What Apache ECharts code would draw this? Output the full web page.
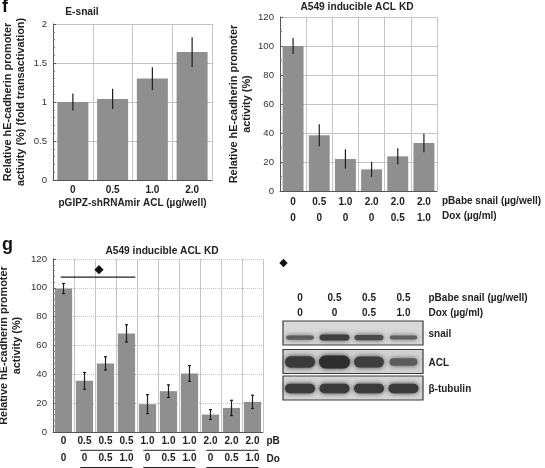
<!DOCTYPE html>
<html><head><meta charset="utf-8">
<script src="https://cdn.jsdelivr.net/npm/echarts@6/dist/echarts.min.js"></script>
<style>html,body{margin:0;padding:0;background:#fff}#c{width:545px;height:468px}</style>
</head><body><div id="c"></div>
<script>
// ---------- data ----------
const fLeftCats = ['0', '0.5', '1.0', '2.0'];
const fLeftVals = [1.0, 1.04, 1.30, 1.64];
const fLeftErr  = [0.11, 0.13, 0.145, 0.19];

const fRightSnail = ['0', '0.5', '1.0', '2.0', '2.0', '2.0'];
const fRightDox   = ['0', '0', '0', '0', '0.5', '1.0'];
const fRightVals  = [100, 38.4, 22.1, 14.9, 23.9, 33.1];
const fRightErr   = [5.5, 7.6, 6.7, 5.2, 5.5, 6.3];

const gSnail = ['0', '0.5', '0.5', '0.5', '1.0', '1.0', '1.0', '2.0', '2.0', '2.0'];
const gDox   = ['0', '0', '0.5', '1.0', '0', '0.5', '1.0', '0', '0.5', '1.0'];
const gVals  = [99.5, 35.5, 47.6, 68.4, 19.3, 28.3, 40.6, 12.1, 16.7, 20.9];
const gErr   = [3.5, 5.8, 4.6, 6.0, 6.6, 4.4, 5.5, 3.4, 5.3, 4.6];
const gSigLine = [[0, 3, 107.4]];   // from category, to category, value
const gSigMark = [[2, 112.6]];      // category, value
const gGroups  = [[1, 3], [4, 6], [7, 9]];

const blotSnail = ['0', '0.5', '0.5', '0.5'];
const blotDox   = ['0', '0', '0.5', '1.0'];
const blotRows  = ['snail', 'ACL', 'β-tubulin'];
const blotIntensity = [[0.45, 0.8, 0.65, 0.4], [0.85, 1.0, 0.8, 0.45], [0.85, 0.85, 0.85, 0.85]];

// ---------- style / layout ----------
const F = '"Liberation Sans", Arial, Helvetica, sans-serif';
const BAR = '#8f8f8f';
const FS_TICK = 9.6, FS_BOLD = 10, FS_TITLE = 10.2, FS_YNAME = 10.9;
const G = [
  {left: 53, top: 24, width: 159, height: 156},
  {left: 280, top: 17, width: 157, height: 174},
  {left: 53, top: 259, width: 210, height: 173}
];

function yAx(gi, max, interval, name, gap, dotted, minorN) {
  return {
    type: 'value', gridIndex: gi, min: 0, max: max, interval: interval,
    name: name, nameLocation: 'middle', nameGap: gap, nameRotate: 90,
    nameTextStyle: {fontFamily: F, fontWeight: 'bold', fontSize: FS_YNAME, color: '#222', lineHeight: 12.8},
    axisLine: {show: true, lineStyle: {color: '#555', width: 1}},
    axisTick: {show: true, inside: true, length: 3, lineStyle: {color: '#555'}},
    minorTick: {show: true, splitNumber: minorN, length: 2, lineStyle: {color: '#777'}},
    axisLabel: {fontFamily: F, fontSize: FS_TICK, color: '#333', margin: 6},
    splitLine: {show: true, lineStyle: {color: '#c4c4c4', width: 1, type: dotted ? 'dotted' : 'solid'}}
  };
}
function xAx(gi, n, fmt, lh, margin, name, nameGap) {
  const a = {
    type: 'category', gridIndex: gi, data: Array.from({length: n}, (_, i) => i),
    axisLine: {show: true, lineStyle: {color: '#555', width: 1}},
    axisTick: {show: false},
    axisLabel: {interval: 0, formatter: fmt, fontFamily: F, fontWeight: 'bold', fontSize: FS_BOLD,
                color: '#222', lineHeight: lh, margin: margin},
    splitLine: {show: true, interval: 0, lineStyle: {color: '#c4c4c4', width: 1}}
  };
  if (name) {
    a.name = name; a.nameLocation = 'middle'; a.nameGap = nameGap;
    a.nameTextStyle = {fontFamily: F, fontWeight: 'bold', fontSize: FS_BOLD, color: '#222'};
  }
  return a;
}
function barSeries(gi, vals, gap) {
  return {type: 'bar', xAxisIndex: gi, yAxisIndex: gi, data: vals, barCategoryGap: gap,
          itemStyle: {color: BAR}, silent: true, z: 2};
}
function errSeries(gi, vals, errs, cap) {
  return {
    type: 'custom', xAxisIndex: gi, yAxisIndex: gi, z: 5, silent: true,
    data: vals.map((v, i) => [i, v - errs[i], v + errs[i]]),
    encode: {x: 0, y: [1, 2]},
    renderItem: function (params, api) {
      const lo = api.coord([api.value(0), api.value(1)]);
      const hi = api.coord([api.value(0), api.value(2)]);
      const st = {stroke: '#1e1e1e', lineWidth: 1.2};
      const ch = [{type: 'line', shape: {x1: lo[0], y1: lo[1], x2: hi[0], y2: hi[1]}, style: st}];
      if (cap) {
        ch.push({type: 'line', shape: {x1: hi[0] - cap, y1: hi[1], x2: hi[0] + cap, y2: hi[1]}, style: st});
        ch.push({type: 'line', shape: {x1: lo[0] - cap, y1: lo[1], x2: lo[0] + cap, y2: lo[1]}, style: st});
      }
      return {type: 'group', children: ch};
    }
  };
}

const chart = echarts.init(document.getElementById('c'), null, {renderer: 'canvas'});

const series = [
  barSeries(0, fLeftVals, '22%'),
  errSeries(0, fLeftVals, fLeftErr, 0),
  barSeries(1, fRightVals, '20%'),
  errSeries(1, fRightVals, fRightErr, 0),
  barSeries(2, gVals, '18%'),
  errSeries(2, gVals, gErr, 1.5),
  { // significance line
    type: 'custom', xAxisIndex: 2, yAxisIndex: 2, z: 6, silent: true, data: gSigLine,
    encode: {x: [0, 1], y: 2},
    renderItem: function (params, api) {
      const a = api.coord([api.value(0), api.value(2)]);
      const b = api.coord([api.value(1), api.value(2)]);
      const bw = api.size([1, 0])[0];
      return {type: 'line', shape: {x1: a[0] - 0.13 * bw, y1: a[1], x2: b[0] + 0.42 * bw, y2: b[1]},
              style: {stroke: '#1e1e1e', lineWidth: 1.1}};
    }
  },
  { // diamond marker
    type: 'custom', xAxisIndex: 2, yAxisIndex: 2, z: 6, silent: true, data: gSigMark,
    encode: {x: 0, y: 1},
    renderItem: function (params, api) {
      const p = api.coord([api.value(0), api.value(1)]);
      const bw = api.size([1, 0])[0];
      const x = p[0] - 0.31 * bw, y = p[1], r = 4.6;
      return {type: 'polygon', shape: {points: [[x, y - r], [x + r, y], [x, y + r], [x - r, y]]},
              style: {fill: '#111'}};
    }
  },
  { // group underlines under x labels
    type: 'custom', xAxisIndex: 2, yAxisIndex: 2, z: 6, silent: true, clip: false, data: gGroups,
    encode: {x: [0, 1]},
    renderItem: function (params, api) {
      const a = api.coord([api.value(0), 0]);
      const b = api.coord([api.value(1), 0]);
      const bw = api.size([1, 0])[0];
      const x1 = a[0] - 0.2 * bw, x2 = b[0] + 0.28 * bw;
      const st = {stroke: '#222', lineWidth: 1};
      return {type: 'group', children: [
        {type: 'line', shape: {x1: x1, y1: a[1] + 18.3, x2: x2, y2: a[1] + 18.3}, style: st},
        {type: 'line', shape: {x1: x1, y1: a[1] + 35.5, x2: x2, y2: a[1] + 35.5}, style: st}
      ]};
    }
  }
];

// ---------- graphic: titles, row labels, blot ----------
function txt(x, y, s, opt) {
  return Object.assign({type: 'text', x: x, y: y, silent: true,
    style: Object.assign({text: s, fontFamily: F, fontSize: FS_BOLD, fontWeight: 'bold', fill: '#222',
                          align: 'left', verticalAlign: 'middle'}, opt || {})});
}
const graphics = [];
graphics.push(txt(2, 7, 'f', {fontSize: 18, fill: '#111'}));
graphics.push(txt(2, 245, 'g', {fontSize: 18, fill: '#111'}));
graphics.push(txt(82, 12, 'E-snail', {align: 'center', fontSize: FS_TITLE}));
graphics.push(txt(357, 7, 'A549 inducible ACL KD', {align: 'center', fontSize: FS_TITLE}));
graphics.push(txt(162, 251, 'A549 inducible ACL KD', {align: 'center', fontSize: FS_TITLE}));
// row captions f-right
const frx = G[1].left + G[1].width + 5, fry = G[1].top + G[1].height;
graphics.push(txt(frx, fry + 10.5, 'pBabe snail (µg/well)'));
graphics.push(txt(frx, fry + 25.5, 'Dox (µg/ml)'));
// row captions g (cropped by the blot panel)
const grx = G[2].left + G[2].width + 3.5, gry = G[2].top + G[2].height;
graphics.push(txt(grx, gry + 9, 'pBabe snail (µg/well)', {width: 16, overflow: 'truncate', ellipsis: ''}));
graphics.push(txt(grx, gry + 27, 'Dox (µg/ml)', {width: 16, overflow: 'truncate', ellipsis: ''}));

// blot panel
const laneX0 = 300, laneStep = 34.5, blotL = 283, blotR = 423;
const rowTop = [321, 349.5, 376], rowH = 24;
const capX = 428.5;
graphics.push({type: 'polygon', silent: true,
  shape: {points: [[283.5, 258.8], [287.7, 263], [283.5, 267.2], [279.3, 263]]}, style: {fill: '#111'}});
blotSnail.forEach((s, i) => graphics.push(txt(laneX0 + i * laneStep, 298, s, {align: 'center'})));
blotDox.forEach((s, i) => graphics.push(txt(laneX0 + i * laneStep, 313, s, {align: 'center'})));
graphics.push(txt(capX, 298, 'pBabe snail (µg/well)'));
graphics.push(txt(capX, 313, 'Dox (µg/ml)'));
const rowBg = ['#d8d8d8', '#d2d2d2', '#d6d6d6'];
blotRows.forEach((name, r) => {
  const t = rowTop[r];
  graphics.push({type: 'rect', silent: true, shape: {x: blotL, y: t, width: blotR - blotL, height: rowH},
    style: {fill: rowBg[r], stroke: '#3a3a3a', lineWidth: 1.2}});
  const cy = r === 0 ? t + 16.5 : t + 12.5;
  blotIntensity[r].forEach((v, i) => {
    const cx = laneX0 + i * laneStep;
    const h = r === 0 ? 2 + 5 * v : (r === 1 ? 3 + 10 * v : 9.5);
    const w = 25 + 6 * v;
    const g = Math.round(130 - 85 * v);
    const col = 'rgb(' + g + ',' + g + ',' + g + ')';
    graphics.push({type: 'rect', silent: true,
      shape: {x: cx - w / 2, y: cy - h / 2, width: w, height: h, r: h / 2},
      style: {fill: col, shadowBlur: 5, shadowColor: col}});
  });
  graphics.push(txt(capX, t + rowH / 2 + 1.5, name));
});

chart.setOption({
  animation: false,
  backgroundColor: '#fff',
  grid: G.map(g => Object.assign({outerBoundsMode: 'none', containLabel: false}, g)),
  xAxis: [
    xAx(0, 4, (v, i) => fLeftCats[i], 14, 3, 'pGIPZ-shRNAmir ACL (µg/well)', 18),
    xAx(1, 6, (v, i) => fRightSnail[i] + '\n' + fRightDox[i], 15.5, 3.5),
    xAx(2, 10, (v, i) => gSnail[i] + '\n' + gDox[i], 17.8, 0)
  ],
  yAxis: [
    yAx(0, 2, 0.5, 'Relative hE-cadherin promoter\nactivity (%) (fold transactivation)', 26, false, 5),
    yAx(1, 120, 20, 'Relative hE-cadherin promoter\nactivity (%)', 27, false, 2),
    yAx(2, 120, 20, 'Relative hE-cadherin promoter\nactivity (%)', 30, true, 5)
  ],
  series: series,
  graphic: graphics
});
</script></body></html>
